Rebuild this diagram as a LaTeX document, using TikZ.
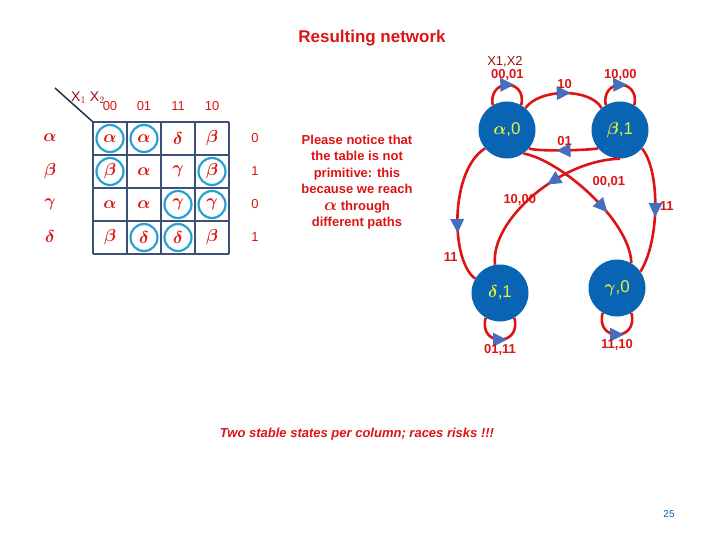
\documentclass[tikz,border=0pt]{standalone}
\usepackage{amsmath}
\usepackage{fontspec}
\setmainfont{Liberation Sans}
\usetikzlibrary{decorations.markings,arrows.meta}
\definecolor{rd}{RGB}{220,20,20}
\definecolor{cb}{RGB}{10,100,180}
\definecolor{tb}{RGB}{40,160,210}
\definecolor{ab}{RGB}{70,110,190}
\definecolor{yl}{RGB}{230,240,60}
\definecolor{gl}{RGB}{60,80,120}
\begin{document}
\begin{tikzpicture}[x=1pt,y=-1pt,
 st/.style={circle,fill=cb,minimum size=57pt,inner sep=0pt,text=yl,font=\fontsize{17}{20}\selectfont},
 ed/.style={draw=rd,line width=2.6pt,postaction={decorate},decoration={markings,mark=at position #1 with {\fill[ab] (7,0)--(-7,-7)--(-7,7)--cycle;}}},
 ed/.default=0.5,
 el/.style={text=rd,font=\fontsize{13}{15}\selectfont\bfseries},
 tl/.style={text=rd,font=\fontsize{13}{15}\selectfont},
 gk/.style={text=rd,font=\fontsize{16}{18}\selectfont},
 ring/.style={circle,draw=tb,line width=2.2pt,minimum size=27pt,inner sep=0pt}]
\useasboundingbox (0,0) rectangle (720,540);
\node[font=\fontsize{17}{20}\selectfont\bfseries,text=rd] (title) at (372,38) {Resulting network};
% table
\foreach \i in {0,...,4}{
 \draw[gl,line width=1.5pt] (93+34*\i,122) -- (93+34*\i,254);
 \draw[gl,line width=1.5pt] (93,122+33*\i) -- (229,122+33*\i);}
\draw[gl!60!black,line width=1.5pt] (55,88) -- (93,122);
\node[text=rd!70!black,font=\fontsize{14}{16}\selectfont] (xx) at (88,98) {X$_1$ X$_2$};
\foreach \t [count=\i] in {00,01,11,10}{\node[tl] (h\i) at (76+34*\i,106) {\t};}
\foreach \t [count=\i] in {\alpha,\beta,\gamma,\delta}{\node[gk] (r\i) at (50,105+33*\i) {$\boldsymbol{\t}$};}
\foreach \t [count=\i] in {0,1,0,1}{\node[tl] (o\i) at (255,105+33*\i) {\t};}
\foreach \r/\c/\t/\s in {1/1/alpha/1,1/2/alpha/1,1/3/delta/0,1/4/beta/0,
 2/1/beta/1,2/2/alpha/0,2/3/gamma/0,2/4/beta/1,
 3/1/alpha/0,3/2/alpha/0,3/3/gamma/1,3/4/gamma/1,
 4/1/beta/0,4/2/delta/1,4/3/delta/1,4/4/beta/0}{
 \ifnum\s=1
 \node[ring,gk] (c\r\c) at (93+34*\c-17,122+33*\r-16.5) {$\boldsymbol{\csname\t\endcsname}$};
 \else
 \node[gk] (c\r\c) at (93+34*\c-17,122+33*\r-16.5) {$\boldsymbol{\csname\t\endcsname}$};
 \fi}
\node[text=rd,font=\fontsize{13}{16.5}\selectfont\bfseries,align=center] (note) at (357,182) {Please notice that\\the table is not\\primitive: this\\because we reach\\{\fontsize{16}{16}\selectfont$\boldsymbol{\alpha}$} through\\different paths};
% states
\node[st] (a) at (507,130) {$\boldsymbol{\alpha}$,0};
\node[st] (b) at (620,130) {$\boldsymbol{\beta}$,1};
\node[st] (d) at (500,293) {$\boldsymbol{\delta}$,1};
\node[st] (g) at (617,288) {$\boldsymbol{\gamma}$,0};
\node[text=rd!70!black,font=\fontsize{13}{15}\selectfont] (xl) at (505,62) {X1,X2};
\draw[ed] (a.120) .. controls (488,78) and (527,78) .. (a.60) node[pos=.5,above,el]{00,01};
\draw[ed] (b.120) .. controls (601,78) and (640,78) .. (b.60) node[pos=.5,above,el]{10,00};
\draw[ed] (a.50) .. controls (540,88) and (590,88) .. (b.130) node[pos=.5,above,el]{10};
\draw[ed] (b.220) .. controls (590,150) and (540,152) .. (a.320) node[pos=.5,above,el]{01};
\draw[ed=0.6] (a.305) .. controls (560,160) and (630,220) .. (g.60) node[pos=.48,above right,el]{00,01};
\draw[ed=0.4] (b.270) .. controls (560,160) and (490,220) .. (d.100) node[pos=.45,below left,el]{10,00};
\draw[ed=0.6] (a.220) .. controls (450,170) and (450,260) .. (d.150) node[pos=.78,left,el]{11};
\draw[ed=0.5] (b.320) .. controls (660,170) and (660,240) .. (g.35) node[pos=.5,right,el]{11};
\draw[ed] (d.240) .. controls (478,347) and (522,347) .. (d.300) node[pos=.5,below,el]{01,11};
\draw[ed] (g.240) .. controls (595,342) and (639,342) .. (g.300) node[pos=.5,below,el]{11,10};
\node[text=rd,font=\fontsize{13}{15}\selectfont\bfseries\itshape] (foot) at (357,434) {Two stable states per column; races risks !!!};
\node[text=cb,font=\fontsize{10}{12}\selectfont] (pg) at (669,514) {25};
\end{tikzpicture}
\end{document}
